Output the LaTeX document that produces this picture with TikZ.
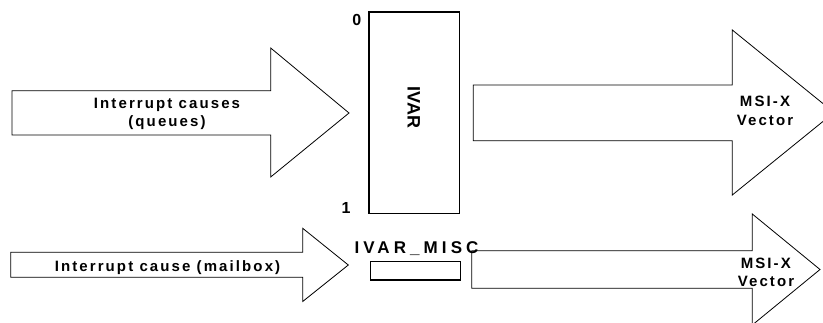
\documentclass[tikz,border=0pt]{standalone}
\usepackage{fontspec}
\newfontfamily\lblf{Liberation Sans Bold}[LetterSpace=14]
\newfontfamily\lblg{Liberation Sans Bold}[LetterSpace=2]
\newfontfamily\lblh{Liberation Sans Bold}[LetterSpace=24]
\begin{document}
\begin{tikzpicture}[x=1pt,y=-1pt,
  fatarrow/.style={draw=black, line width=0.8pt, line join=miter},
  regbox/.style={draw=black, line width=1.1pt},
  lbl/.style={font=\lblf\fontsize{15}{17}\selectfont, inner sep=0pt, anchor=base},
  ]
\clip (0,0) rectangle (823,323);
% input arrows
\draw[fatarrow] (12,90.7) -- (270.7,90.7) -- (270.7,48) -- (349,113) -- (270.7,177) -- (270.7,135) -- (12,135) -- cycle;
\draw[fatarrow] (10.7,252.3) -- (302.7,252.3) -- (302.7,228.3) -- (348.3,265) -- (302.7,301.5) -- (302.7,277.3) -- (10.7,277.3) -- cycle;
% output arrows
\draw[fatarrow] (473.3,85) -- (732.3,85) -- (732.3,30) -- (834,112.5) -- (732.3,195) -- (732.3,140.7) -- (473.3,140.7) -- cycle;
\draw[fatarrow] (471.7,250.7) -- (752.3,250.7) -- (752.3,214) -- (820,269.5) -- (752.3,325) -- (752.3,288.3) -- (471.7,288.3) -- cycle;
% registers
\node[regbox, minimum width=90.3pt, minimum height=201.7pt, inner sep=0pt] (ivar) at (414.15,112.85) {};
\node[regbox, minimum width=89.6pt, minimum height=18.3pt, inner sep=0pt] (misc) at (415.5,270.85) {};
% labels
\node[lbl] (t1) at (167,108.5) {Interrupt causes};
\node[lbl] (t2) at (167,127) {(queues)};
\node[lbl] (t3) at (167.5,271.3) {Interrupt cause (mailbox)};
\node[lbl] (m1) at (765,107) {MSI-X};
\node[lbl] (v1) at (765,125.5) {Vector};
\node[lbl] (m2) at (765.8,268.3) {MSI-X};
\node[lbl] (v2) at (766,287) {Vector};
\node[lbl, font=\lblf\fontsize{16}{18}\selectfont] (z0) at (356.7,26) {0};
\node[lbl, font=\lblf\fontsize{16}{18}\selectfont] (z1) at (346,214) {1};
\node[font=\lblg\fontsize{18}{20}\selectfont, inner sep=0pt, rotate=-90] (ivl) at (413.7,107.5) {IVAR};
\node[lbl, font=\lblh\fontsize{17}{19}\selectfont] (miscl) at (416.5,253.3) {IVAR\_MISC};
\end{tikzpicture}
\end{document}
